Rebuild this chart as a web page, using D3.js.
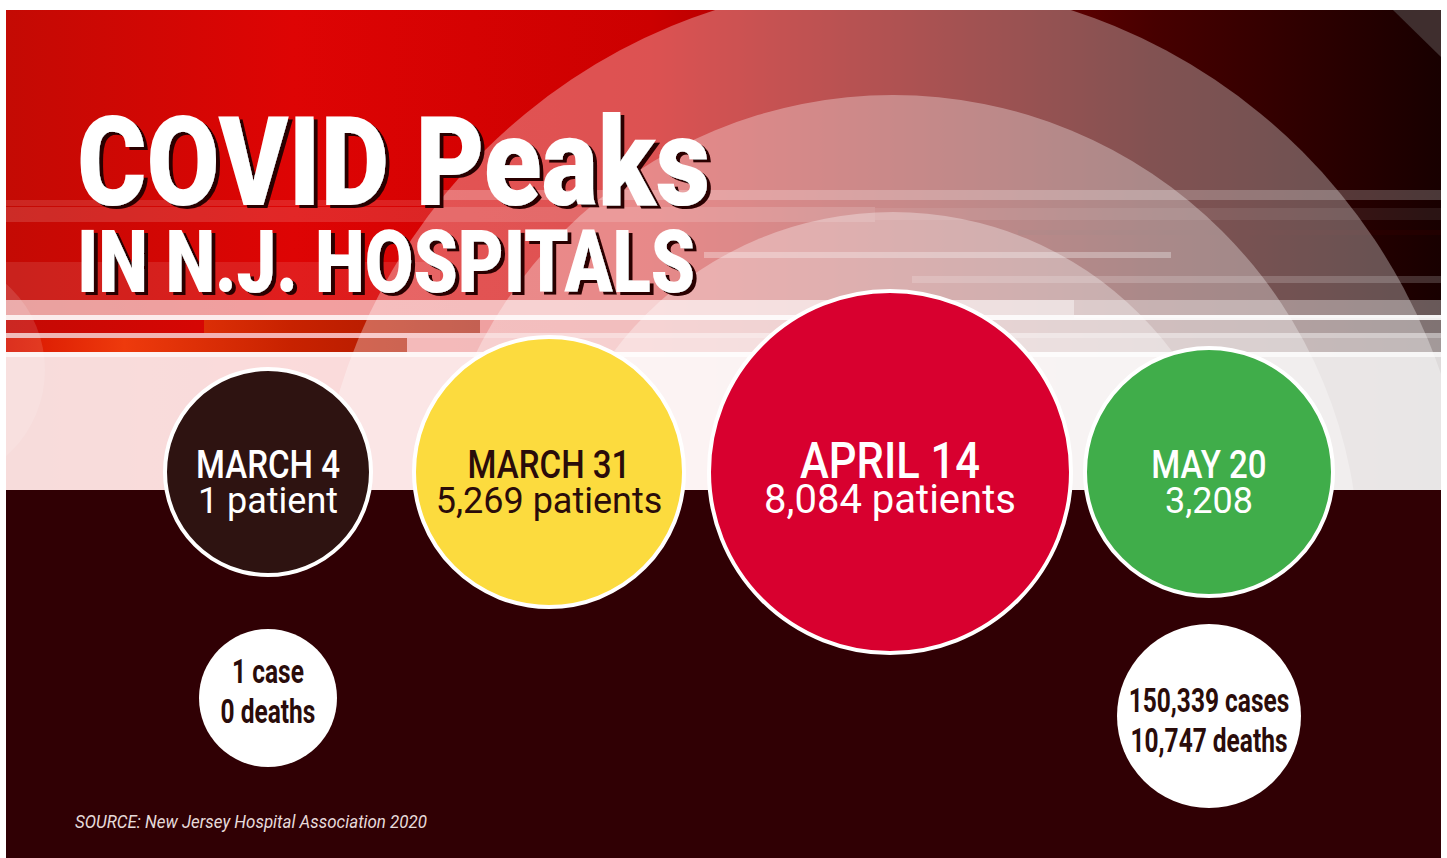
<!DOCTYPE html>
<html>
<head>
<meta charset="utf-8">
<script src="https://cdn.jsdelivr.net/npm/d3@7"></script>
<style>
  html, body { margin: 0; padding: 0; background: #fff; }
  svg { display: block; }
</style>
</head>
<body>
<script>
// peak hospital counts
var dates = ["MARCH 4", "MARCH 31", "APRIL 14", "MAY 20"],
    patients = [1, 5269, 8084, 3208],
    patientUnits = ["patient", "patients", "patients", ""],
    fills = ["#2e1311", "#fcdb3e", "#d8002f", "#40ad4a"],
    labelInk = ["#ffffff", "#2a0c0a", "#ffffff", "#ffffff"];

// cumulative cases / deaths at start and end
var caseDates = ["MARCH 4", "MAY 20"],
    cases = [1, 150339],
    deaths = [0, 10747];

var width = 1447, height = 858,
    box = {x0: 6, x1: 1441, y0: 10, y1: 858},
    splitY = 490,
    fmt = d3.format(",");

var svg = d3.select("body").append("svg")
    .attr("width", width)
    .attr("height", height);

var defs = svg.append("defs");

var bg = defs.append("linearGradient").attr("id", "bgGrad")
    .attr("x1", 0).attr("x2", 1).attr("y1", 0).attr("y2", 0);
[[0, "#c40a04"], [0.2, "#de0404"], [0.45, "#cc0000"], [0.62, "#8a0000"], [0.8, "#470000"], [1, "#180000"]]
  .forEach(function(s) { bg.append("stop").attr("offset", s[0]).attr("stop-color", s[1]); });

var barGrad = defs.append("linearGradient").attr("id", "barGrad")
    .attr("gradientUnits", "userSpaceOnUse")
    .attr("x1", 6).attr("x2", 480).attr("y1", 0).attr("y2", 0);
[[0, "#d81400"], [0.25, "#ee3a0c"], [0.6, "#c82200"], [1, "#a81600"]]
  .forEach(function(s) { barGrad.append("stop").attr("offset", s[0]).attr("stop-color", s[1]); });

defs.append("clipPath").attr("id", "topClip")
  .append("rect")
    .attr("x", box.x0).attr("y", box.y0)
    .attr("width", box.x1 - box.x0).attr("height", splitY - box.y0);

// hard drop shadow for the title
var shadow = defs.append("filter").attr("id", "titleShadow")
    .attr("x", "-5%").attr("y", "-10%").attr("width", "115%").attr("height", "130%");
shadow.append("feOffset").attr("in", "SourceAlpha").attr("dx", 4).attr("dy", 3).attr("result", "off");
shadow.append("feFlood").attr("flood-color", "#2a0000").attr("result", "ink");
shadow.append("feComposite").attr("in", "ink").attr("in2", "off").attr("operator", "in").attr("result", "drop");
var merge = shadow.append("feMerge");
merge.append("feMergeNode").attr("in", "drop");
merge.append("feMergeNode").attr("in", "SourceGraphic");

// background, upper half
var upper = svg.append("g").attr("clip-path", "url(#topClip)");

upper.append("rect")
    .attr("x", box.x0).attr("y", box.y0)
    .attr("width", box.x1 - box.x0).attr("height", splitY - box.y0)
    .attr("fill", "url(#bgGrad)");

// faint streaks behind
var softStreaks = [
  [6, 440, 200, 206, 0.12], [6, 875, 207, 222, 0.14], [875, 1441, 208, 220, 0.08],
  [6, 440, 262, 300, 0.1], [435, 1441, 190, 200, 0.22], [704, 1171, 252, 258, 0.3],
  [912, 1441, 276, 283, 0.18]
];
upper.selectAll(".soft").data(softStreaks).enter().append("rect")
    .attr("x", function(d) { return d[0]; }).attr("y", function(d) { return d[2]; })
    .attr("width", function(d) { return d[1] - d[0]; }).attr("height", function(d) { return d[3] - d[2]; })
    .attr("fill", "#fff").attr("opacity", function(d) { return d[4]; });

upper.append("rect").attr("x", 1018).attr("y", 230).attr("width", 423).attr("height", 5)
    .attr("fill", "#3a0000").attr("opacity", 0.25);

// red bars
upper.append("rect").attr("x", 204).attr("y", 320).attr("width", 276).attr("height", 13).attr("fill", "url(#barGrad)");
upper.append("rect").attr("x", 6).attr("y", 338).attr("width", 401).attr("height", 14).attr("fill", "url(#barGrad)");

// light band below the streaks
upper.append("rect").attr("x", 6).attr("y", 357).attr("width", 1435).attr("height", splitY - 357)
    .attr("fill", "#fff").attr("opacity", 0.86);

// rings
var rings = [579, 466, 349];
upper.selectAll(".ring").data(rings).enter().append("circle")
    .attr("cx", 893).attr("cy", 561)
    .attr("r", function(d) { return d; })
    .attr("fill", "#fff").attr("opacity", 0.32);

upper.append("circle").attr("cx", -70).attr("cy", 370).attr("r", 115)
    .attr("fill", "#fff").attr("opacity", 0.12);

// bright streaks on top
var hardStreaks = [
  [6, 1074, 300, 315, 0.62], [1074, 1441, 300, 318, 0.35], [6, 1441, 315, 320, 0.92],
  [480, 1441, 320, 333, 0.45], [6, 1441, 333, 338, 0.7], [407, 1441, 338, 352, 0.6],
  [6, 1441, 352, 357, 0.95]
];
upper.selectAll(".hard").data(hardStreaks).enter().append("rect")
    .attr("x", function(d) { return d[0]; }).attr("y", function(d) { return d[2]; })
    .attr("width", function(d) { return d[1] - d[0]; }).attr("height", function(d) { return d[3] - d[2]; })
    .attr("fill", "#fff").attr("opacity", function(d) { return d[4]; });

upper.append("polygon")
    .attr("points", "1393,10 1441,10 1441,57")
    .attr("fill", "#3f2e2e");

// dark bottom
svg.append("rect")
    .attr("x", box.x0).attr("y", splitY)
    .attr("width", box.x1 - box.x0).attr("height", box.y1 - splitY)
    .attr("fill", "#300004");

// title
var font = "Roboto, 'DejaVu Sans', sans-serif";
var titles = [
  {text: "COVID Peaks", y: 205, size: 124, len: 633},
  {text: "IN N.J. HOSPITALS", y: 292, size: 88, len: 618}
];
svg.append("g").attr("filter", "url(#titleShadow)")
  .selectAll("text").data(titles).enter().append("text")
    .attr("x", 77).attr("y", function(d) { return d.y; })
    .attr("textLength", function(d) { return d.len; })
    .attr("lengthAdjust", "spacingAndGlyphs")
    .style("font-family", font)
    .style("font-weight", 900)
    .style("font-size", function(d) { return d.size + "px"; })
    .attr("fill", "#ffffff")
    .text(function(d) { return d.text; });

// scales
var x = d3.scaleOrdinal().domain(dates).range([268, 549, 890, 1209]);
var r = d3.scaleLinear().domain([1, 3208, 5269, 8084]).range([103, 124, 135, 181]);
var color = d3.scaleOrdinal().domain(dates).range(fills);
var ink = d3.scaleOrdinal().domain(dates).range(labelInk);
var cy = 472;

var peaks = dates.map(function(d, i) {
  return {date: d, value: patients[i], label: fmt(patients[i]) + (patientUnits[i] ? " " + patientUnits[i] : "")};
});

function squeeze(sel, k) {
  sel.each(function() {
    var w = this.getComputedTextLength();
    d3.select(this).attr("textLength", w * k).attr("lengthAdjust", "spacingAndGlyphs");
  });
}

var peak = svg.selectAll(".peak").data(peaks).enter().append("g")
    .attr("class", "peak")
    .attr("transform", function(d) { return "translate(" + x(d.date) + "," + cy + ")"; });

peak.append("circle")
    .attr("r", function(d) { return r(d.value); })
    .attr("fill", function(d) { return color(d.date); })
    .attr("stroke", "#fff")
    .attr("stroke-width", 4);

peak.append("text")
    .attr("text-anchor", "middle")
    .attr("y", 6)
    .style("font-family", font)
    .style("font-weight", 500)
    .style("font-size", function(d) { return (r(d.value) > 170 ? 50 : 38) + "px"; })
    .attr("fill", function(d) { return ink(d.date); })
    .text(function(d) { return d.date; })
    .call(squeeze, 0.87);

peak.append("text")
    .attr("text-anchor", "middle")
    .attr("y", 41)
    .style("font-family", font)
    .style("font-weight", 400)
    .style("font-size", function(d) { return (r(d.value) > 170 ? 40 : 36) + "px"; })
    .attr("fill", function(d) { return ink(d.date); })
    .text(function(d) { return d.label; });

// cases / deaths bubbles
var caseR = d3.scaleLinear().domain([1, 150339]).range([69, 92]);
var caseY = d3.scaleOrdinal().domain(caseDates).range([698, 716]);
var textShift = d3.scaleOrdinal().domain(caseDates).range([-15, -4]);

var tallies = caseDates.map(function(d, i) {
  return {date: d, cases: cases[i],
          lines: [fmt(cases[i]) + (cases[i] === 1 ? " case" : " cases"), fmt(deaths[i]) + " deaths"]};
});

var tally = svg.selectAll(".tally").data(tallies).enter().append("g")
    .attr("class", "tally")
    .attr("transform", function(d) { return "translate(" + x(d.date) + "," + caseY(d.date) + ")"; });

tally.append("circle")
    .attr("r", function(d) { return caseR(d.cases); })
    .attr("fill", "#ffffff");

tally.each(function(t) {
  d3.select(this).selectAll("text").data(t.lines).enter().append("text")
      .attr("text-anchor", "middle")
      .attr("y", function(d, i) { return textShift(t.date) + i * 40; })
      .style("font-family", font)
      .style("font-weight", 700)
      .style("font-size", "34px")
      .attr("fill", "#2a0c0a")
      .text(function(d) { return d; })
      .call(squeeze, 0.72);
});

// source
svg.append("text")
    .attr("x", 75).attr("y", 828)
    .attr("textLength", 352).attr("lengthAdjust", "spacingAndGlyphs")
    .style("font-family", font)
    .style("font-style", "italic")
    .style("font-size", "19px")
    .attr("fill", "#e6dada")
    .text("SOURCE:  New Jersey Hospital Association 2020");
</script>
</body>
</html>
